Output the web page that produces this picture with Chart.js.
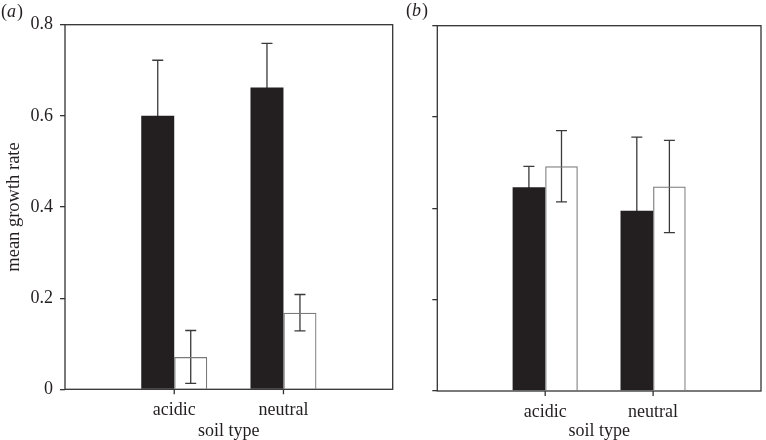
<!DOCTYPE html>
<html lang="en">
<head>
<meta charset="UTF-8">
<title>Mean growth rate by soil type</title>
<script src="https://cdn.jsdelivr.net/npm/chart.js"></script>
<style>
  body { margin: 0; background: #fff; }
  #wrap { position: relative; width: 766px; height: 440px; }
  canvas { position: absolute; top: 0; }
  #chartA { left: 0; }
  #chartB { left: 400px; }
</style>
</head>
<body>
<div id="wrap">
  <canvas id="chartA" width="400" height="440"></canvas>
  <canvas id="chartB" width="366" height="440"></canvas>
</div>
<script>
// values
const categories = ['acidic', 'neutral'];
const yTicks = [0, 0.2, 0.4, 0.6, 0.8];

const aDark = [0.600, 0.662];
const aDarkErr = [0.122, 0.097];
const aOpen = [0.071, 0.168];
const aOpenErr = [0.058, 0.040];

const bDark = [0.446, 0.395];
const bDarkErr = [0.046, 0.161];
const bOpen = [0.492, 0.448];
const bOpenErr = [0.078, 0.101];

const INK = '#231f20';
const FONT = 'Liberation Serif, Times New Roman, serif';

// padded category list so the two groups sit at 1/3 and 2/3 of the axis
const xLabels = ['', ...categories, ''];
const pad = arr => [null, ...arr, null];

// error bars drawn under the bars so the dark bars hide the lower half
const errorBars = {
  id: 'errorBars',
  beforeDatasetsDraw(chart) {
    const ctx = chart.ctx;
    const y = chart.scales.y;
    ctx.save();
    ctx.strokeStyle = '#3a3a3a';
    ctx.lineWidth = 1.3;
    chart.data.datasets.forEach((ds, i) => {
      const meta = chart.getDatasetMeta(i);
      meta.data.forEach((bar, j) => {
        const v = ds.data[j];
        if (v == null) return;
        const e = ds.err[j];
        const top = y.getPixelForValue(v + e);
        const bot = y.getPixelForValue(v - e);
        ctx.beginPath();
        ctx.moveTo(bar.x, top); ctx.lineTo(bar.x, bot);
        ctx.moveTo(bar.x - 5.5, top); ctx.lineTo(bar.x + 5.5, top);
        ctx.moveTo(bar.x - 5.5, bot); ctx.lineTo(bar.x + 5.5, bot);
        ctx.stroke();
      });
    });
    ctx.restore();
  }
};

// box round the plot, category tick marks and the (a)/(b) label
const frame = {
  id: 'frame',
  afterDraw(chart, args, opts) {
    const ctx = chart.ctx;
    const a = chart.chartArea;
    const xs = chart.scales.x;
    ctx.save();
    ctx.strokeStyle = '#333';
    ctx.lineWidth = 1.3;
    ctx.strokeRect(a.left, a.top, a.right - a.left, a.bottom - a.top);
    ctx.beginPath();
    xLabels.forEach((lab, i) => {
      if (!lab) return;
      const px = xs.getPixelForValue(i);
      ctx.moveTo(px, a.bottom);
      ctx.lineTo(px, a.bottom + 5);
    });
    ctx.stroke();
    // panel label, letter in italics
    ctx.fillStyle = INK;
    ctx.textBaseline = 'middle';
    let x = opts.x;
    ctx.font = '18px ' + FONT;
    ctx.fillText('(', x, opts.y);
    x += ctx.measureText('(').width;
    ctx.font = 'italic 18px ' + FONT;
    ctx.fillText(opts.letter, x, opts.y);
    x += ctx.measureText(opts.letter).width + 1;
    ctx.font = '18px ' + FONT;
    ctx.fillText(')', x, opts.y);
    ctx.restore();
  }
};

function makeChart(id, dark, darkErr, open, openErr, cfg) {
  return new Chart(document.getElementById(id), {
    type: 'bar',
    data: {
      labels: xLabels,
      datasets: [
        { data: pad(dark), err: pad(darkErr), backgroundColor: INK, borderWidth: 0 },
        { data: pad(open), err: pad(openErr), backgroundColor: 'rgba(255,255,255,0)',
          borderColor: '#7a7a7a', borderWidth: 1.2 }
      ]
    },
    options: {
      responsive: false,
      animation: false,
      layout: { padding: { top: cfg.top, right: cfg.right, left: 0, bottom: 0 } },
      plugins: {
        legend: { display: false },
        tooltip: { enabled: false },
        frame: { letter: cfg.letter, x: cfg.labelX, y: cfg.labelY }
      },
      datasets: { bar: { categoryPercentage: 0.604, barPercentage: 1 } },
      scales: {
        x: {
          offset: false,
          border: { display: false },
          grid: { display: false, drawTicks: true, tickLength: 5 },
          ticks: { color: INK, font: { family: FONT, size: 18 }, padding: 5, maxRotation: 0, autoSkip: false },
          title: { display: true, text: 'soil type', color: INK, font: { family: FONT, size: 18, lineHeight: 1 }, padding: 0 },
          afterFit: s => { s.height = cfg.xHeight; }
        },
        y: {
          min: 0, max: 0.8,
          border: { display: false },
          grid: { drawOnChartArea: false, drawTicks: true, tickLength: 5, tickColor: '#333', lineWidth: 1.3 },
          afterBuildTicks: s => { s.ticks = yTicks.map(v => ({ value: v })); },
          ticks: {
            color: INK, font: { family: FONT, size: 18 }, padding: 7,
            callback: v => (cfg.showY ? (v === 0 ? '0' : v.toFixed(1)) : '')
          },
          title: { display: cfg.showY, text: 'mean growth rate', color: INK,
                   font: { family: FONT, size: 18.5, lineHeight: 1 }, padding: { top: 5, bottom: 0 } },
          afterFit: s => { s.width = cfg.yWidth; }
        }
      }
    },
    plugins: [errorBars, frame]
  });
}

makeChart('chartA', aDark, aDarkErr, aOpen, aOpenErr,
  { letter: 'a', labelX: 1, labelY: 12, top: 24.7, right: 7.3, xHeight: 50.7, yWidth: 65, showY: true });
makeChart('chartB', bDark, bDarkErr, bOpen, bOpenErr,
  { letter: 'b', labelX: 6, labelY: 11, top: 25.7, right: 2, xHeight: 49, yWidth: 37.3, showY: false });
</script>
</body>
</html>
